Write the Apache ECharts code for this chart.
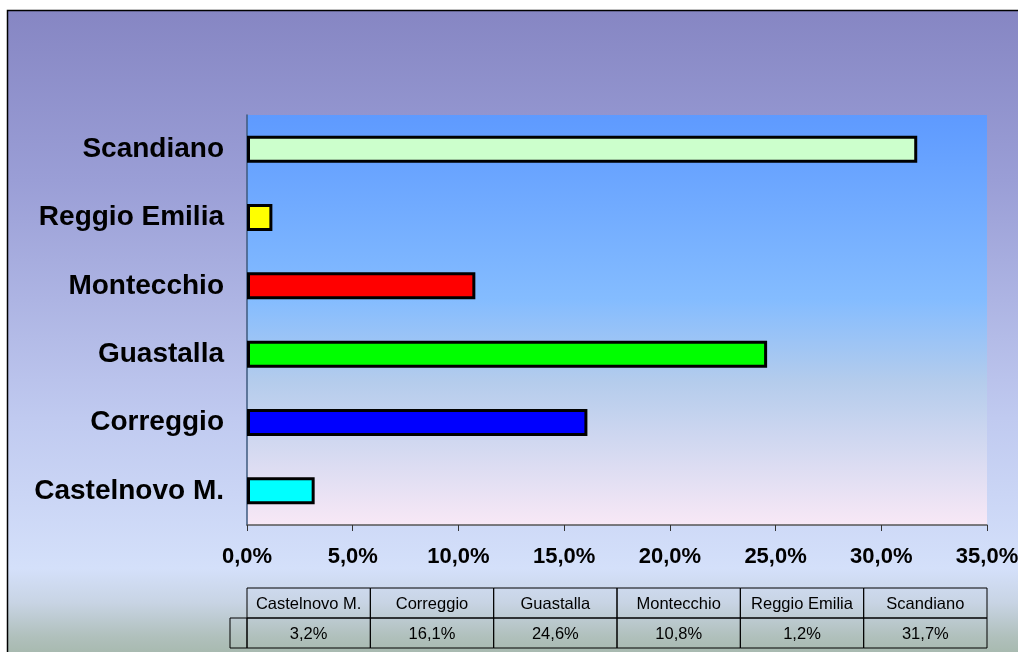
<!DOCTYPE html>
<html>
<head>
<meta charset="utf-8">
<script src="https://cdn.jsdelivr.net/npm/echarts@6/dist/echarts.min.js"></script>
<style>
html,body{margin:0;padding:0;background:#fff;}
#c{width:1018px;height:652px;}
</style>
</head>
<body>
<div id="c"></div>
<script>
const categories = ['Castelnovo M.', 'Correggio', 'Guastalla', 'Montecchio', 'Reggio Emilia', 'Scandiano'];
const values = [3.2, 16.1, 24.6, 10.8, 1.2, 31.7];
const barColors = ['#00FFFF', '#0000FF', '#00FF00', '#FF0000', '#FFFF00', '#CCFFCC'];
const xTicks = [0, 5, 10, 15, 20, 25, 30, 35];

const G = {left: 247, top: 115, width: 740, height: 410};
const FONT = 'Arial, "Liberation Sans", sans-serif';
const fmt = v => v.toFixed(1).replace('.', ',') + '%';

const chart = echarts.init(document.getElementById('c'), null, {renderer: 'canvas'});

// data table graphics
const tableEls = [];
const colW = G.width / categories.length;
const rowTop = 588, rowH = 30;
categories.forEach((c, i) => {
  const x = G.left + i * colW;
  tableEls.push({type: 'rect', shape: {x: x, y: rowTop, width: colW, height: rowH},
    style: {fill: 'none', stroke: '#000', lineWidth: 1}, z: 10});
  tableEls.push({type: 'rect', shape: {x: x, y: rowTop + rowH, width: colW, height: rowH},
    style: {fill: 'none', stroke: '#000', lineWidth: 1}, z: 10});
  tableEls.push({type: 'text', x: x + colW / 2, y: rowTop + rowH / 2 + 1,
    style: {text: c, fill: '#000', font: '16.5px ' + FONT, align: 'center', verticalAlign: 'middle'}, z: 11});
  tableEls.push({type: 'text', x: x + colW / 2, y: rowTop + rowH * 1.5 + 1,
    style: {text: fmt(values[i]), fill: '#000', font: '16.5px ' + FONT, align: 'center', verticalAlign: 'middle'}, z: 11});
});
tableEls.push({type: 'rect', shape: {x: 230, y: rowTop + rowH, width: G.left - 230, height: rowH},
  style: {fill: 'none', stroke: '#000', lineWidth: 1}, z: 10});

const option = {
  animation: false,
  backgroundColor: '#ffffff',
  graphic: [
    {type: 'rect', shape: {x: 7.5, y: 10.5, width: 1040, height: 680}, z: -10,
      style: {stroke: '#000', lineWidth: 1.5,
        fill: new echarts.graphic.LinearGradient(0, 0, 0, 1, [
          {offset: 0, color: '#8686C3'},
          {offset: 0.25, color: '#9A9ED6'},
          {offset: 0.6, color: '#C0CAF0'},
          {offset: 0.82, color: '#D4E0FA'},
          {offset: 0.87, color: '#C8D4E4'},
          {offset: 0.92, color: '#B0C0BC'},
          {offset: 1, color: '#94AA92'}
        ])}},
    {type: 'rect', shape: {x: G.left, y: G.top, width: G.width, height: G.height}, z: -9,
      style: {fill: new echarts.graphic.LinearGradient(0, 0, 0, 1, [
        {offset: 0, color: '#5E9AFF'},
        {offset: 0.45, color: '#84BCFF'},
        {offset: 0.65, color: '#B4CCEC'},
        {offset: 1, color: '#F8E8F6'}
      ])}},
    ...tableEls
  ],
  grid: {left: G.left, top: G.top, width: G.width, height: G.height, containLabel: false, outerBoundsMode: 'none'},
  xAxis: {
    type: 'value', min: 0, max: 35, interval: 5,
    axisLine: {show: true, lineStyle: {color: '#555', width: 1.5}},
    axisTick: {show: true, length: 6, lineStyle: {color: '#333'}},
    splitLine: {show: false},
    axisLabel: {
      margin: 21, color: '#000', fontSize: 22, fontWeight: 'bold',
      fontFamily: FONT,
      formatter: v => fmt(v)
    }
  },
  yAxis: {
    type: 'category', data: categories,
    axisLine: {show: true, lineStyle: {color: '#3E5A7E', width: 1.5}},
    axisTick: {show: false},
    axisLabel: {
      margin: 23, color: '#000', fontSize: 28, fontWeight: 'bold',
      fontFamily: FONT, padding: [8, 0, 0, 0]
    }
  },
  series: [{
    type: 'bar',
    data: values.map((v, i) => ({value: v, itemStyle: {color: barColors[i]}})),
    barWidth: 27,
    itemStyle: {borderColor: '#000', borderWidth: 3}
  }]
};
chart.setOption(option);
</script>
</body>
</html>
